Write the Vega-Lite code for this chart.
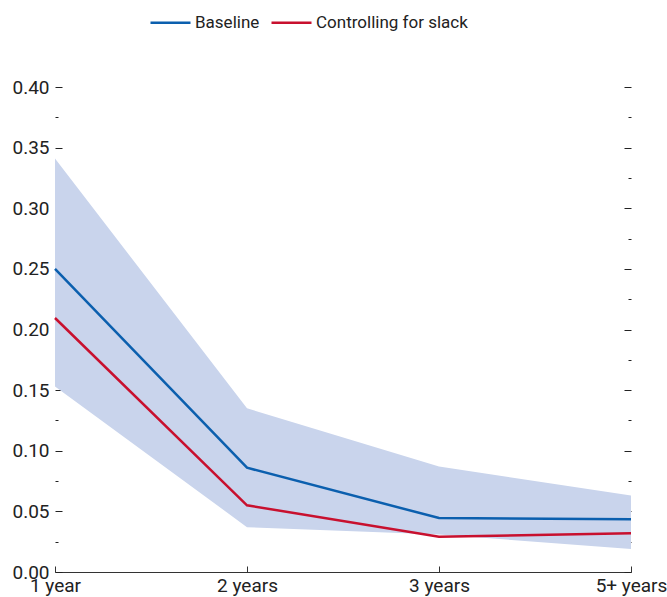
{
  "$schema": "https://vega.github.io/schema/vega-lite/v6.json",
  "width": 576,
  "height": 485,
  "autosize": {"type": "none"},
  "padding": {"left": 55, "top": 87, "right": 36, "bottom": 25},
  "config": {
    "view": {"stroke": null},
    "font": "Roboto, sans-serif"
  },
  "datasets": {
    "band": [
      {"period": "1 year", "lo": 0.153, "hi": 0.341},
      {"period": "2 years", "lo": 0.037, "hi": 0.135},
      {"period": "3 years", "lo": 0.031, "hi": 0.087},
      {"period": "5+ years", "lo": 0.019, "hi": 0.063}
    ],
    "lines": [
      {"period": "1 year", "series": "Baseline", "value": 0.250},
      {"period": "2 years", "series": "Baseline", "value": 0.086},
      {"period": "3 years", "series": "Baseline", "value": 0.0445},
      {"period": "5+ years", "series": "Baseline", "value": 0.0435},
      {"period": "1 year", "series": "Controlling for slack", "value": 0.2095},
      {"period": "2 years", "series": "Controlling for slack", "value": 0.055},
      {"period": "3 years", "series": "Controlling for slack", "value": 0.029},
      {"period": "5+ years", "series": "Controlling for slack", "value": 0.032}
    ]
  },
  "encoding": {
    "x": {
      "field": "period",
      "type": "ordinal",
      "sort": ["1 year", "2 years", "3 years", "5+ years"],
      "scale": {"type": "point", "padding": 0},
      "axis": {
        "title": null,
        "labelAngle": 0,
        "tickSize": -6,
        "labelPadding": 10,
        "labelFontSize": 19,
        "labelColor": "#222222",
        "domainColor": "#333333",
        "tickColor": "#333333",
        "labelFlush": false,
        "grid": false
      }
    }
  },
  "layer": [
    {
      "data": {"name": "band"},
      "mark": {"type": "area", "color": "#c9d4ec", "opacity": 1},
      "encoding": {
        "y": {
          "field": "hi",
          "type": "quantitative",
          "scale": {"domain": [0, 0.4], "nice": false, "zero": true},
          "axis": {
            "orient": "left",
            "title": null,
            "values": [0, 0.025, 0.05, 0.075, 0.1, 0.125, 0.15, 0.175, 0.2, 0.225, 0.25, 0.275, 0.3, 0.325, 0.35, 0.375, 0.4],
            "labelExpr": "round(datum.value*1000)%50==0 ? format(datum.value,'.2f') : ''",
            "tickSize": {"condition": {"test": "round(datum.value*1000)%50==0", "value": -7}, "value": -3},
            "labelPadding": 13,
            "labelFontSize": 19,
            "labelColor": "#222222",
            "tickColor": "#222222",
            "domain": false,
            "grid": false,
            "labelFlush": false,
            "labelOverlap": false
          }
        },
        "y2": {"field": "lo"}
      }
    },
    {
      "data": {"name": "lines"},
      "mark": {"type": "line", "strokeWidth": 2.5},
      "encoding": {
        "y": {
          "field": "value",
          "type": "quantitative",
          "axis": {
            "orient": "right",
            "title": null,
            "values": [0, 0.025, 0.05, 0.075, 0.1, 0.125, 0.15, 0.175, 0.2, 0.225, 0.25, 0.275, 0.3, 0.325, 0.35, 0.375, 0.4],
            "labels": false,
            "tickSize": {"condition": {"test": "round(datum.value*1000)%50==0", "value": -7}, "value": -3},
            "tickColor": "#222222",
            "domain": false,
            "grid": false
          }
        },
        "color": {
          "field": "series",
          "type": "nominal",
          "scale": {"domain": ["Baseline", "Controlling for slack"], "range": ["#0b5fae", "#c8102e"]},
          "legend": {
            "title": null,
            "orient": "none",
            "direction": "horizontal",
            "legendX": 94,
            "legendY": -86,
            "symbolType": "stroke",
            "symbolSize": 1600,
            "symbolStrokeWidth": 2.5,
            "labelFontSize": 17,
            "labelColor": "#222222",
            "labelOffset": 3,
            "labelLimit": 400,
            "columnPadding": 6
          }
        }
      }
    }
  ],
  "resolve": {"axis": {"y": "independent"}}
}
